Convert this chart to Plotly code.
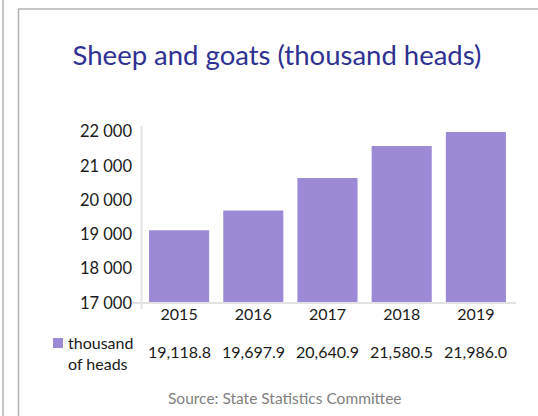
import plotly.graph_objects as go

# Flock size by year
years = ["2015", "2016", "2017", "2018", "2019"]
heads = [19118.8, 19697.9, 20640.9, 21580.5, 21986.0]
series_name = "thousand<br>of heads"
y_ticks = [17000, 18000, 19000, 20000, 21000, 22000]

W, H = 538, 416
L, R, T, B = 142, 25, 126, 113
PW, PH = W - L - R, H - T - B


def px_x(x):
    return (x - L) / PW


def px_y(y):
    return (H - B - y) / PH


FONT = "Lato"
TEXT = "#1a1a1a"
BAR = "#9c8ad6"
AXIS = "#e2e2e2"

fig = go.Figure(
    go.Bar(
        x=years,
        y=heads,
        marker=dict(color=BAR, line=dict(width=0)),
        showlegend=False,
        hoverinfo="x+y",
    )
)

fig.update_layout(
    width=W,
    height=H,
    margin=dict(l=L, r=R, t=T, b=B),
    paper_bgcolor="white",
    plot_bgcolor="white",
    bargap=0.19,
    separators=". ",
    font=dict(family=FONT, color=TEXT, size=16),
    title=dict(
        text="Sheep and goats (thousand heads)",
        x=px_x(277),
        xref="paper",
        xanchor="center",
        y=1 - 55 / H,
        yanchor="middle",
        font=dict(family=FONT, size=27.5, color="#2e3192"),
    ),
)

fig.update_xaxes(
    type="category",
    range=[-0.5, len(years) - 0.5],
    showgrid=False,
    showline=False,
    zeroline=False,
    ticks="",
    tickfont=dict(size=16, color=TEXT),
)
fig.update_yaxes(
    range=[17000, 22160],
    tickvals=y_ticks,
    tickformat=",d",
    showgrid=False,
    showline=False,
    zeroline=False,
    ticks="",
    ticklabelstandoff=9,
    tickfont=dict(size=16.5, color=TEXT),
)

shapes = []
# axis lines, with the short stubs past the crossing point
shapes.append(dict(type="line", xref="paper", yref="paper",
                   x0=px_x(141.5), x1=px_x(141.5), y0=px_y(126), y1=px_y(309),
                   line=dict(color=AXIS, width=2)))
shapes.append(dict(type="line", xref="paper", yref="paper",
                   x0=px_x(132), x1=px_x(516), y0=px_y(303), y1=px_y(303),
                   line=dict(color=AXIS, width=2)))
# page frame
shapes.append(dict(type="line", xref="paper", yref="paper",
                   x0=px_x(3), x1=px_x(3), y0=px_y(0), y1=px_y(H),
                   line=dict(color="#b4b4b4", width=1.5)))
shapes.append(dict(type="line", xref="paper", yref="paper",
                   x0=px_x(18.5), x1=px_x(18.5), y0=px_y(9), y1=px_y(H),
                   line=dict(color="#b4b4b4", width=1.5)))
shapes.append(dict(type="line", xref="paper", yref="paper",
                   x0=px_x(18), x1=px_x(W), y0=px_y(9), y1=px_y(9),
                   line=dict(color="#b4b4b4", width=1.5)))
# legend key
shapes.append(dict(type="rect", xref="paper", yref="paper",
                   x0=px_x(53), x1=px_x(63), y0=px_y(348), y1=px_y(338),
                   fillcolor=BAR, line=dict(width=0)))
fig.update_layout(shapes=shapes)

annotations = []
# data table row, placed by category index
for i, v in enumerate(heads):
    annotations.append(dict(
        x=i, xref="x", y=px_y(351), yref="paper",
        text=f"{v:,.1f}", showarrow=False,
        xanchor="center", yanchor="middle",
        font=dict(size=16, color=TEXT),
    ))
annotations.append(dict(
    x=px_x(66), xref="paper", y=px_y(352.5), yref="paper",
    text=series_name, showarrow=False, align="left",
    xanchor="left", yanchor="middle",
    font=dict(size=16, color=TEXT),
))
annotations.append(dict(
    x=px_x(285), xref="paper", y=px_y(398), yref="paper",
    text="Source: State Statistics Committee", showarrow=False,
    xanchor="center", yanchor="middle",
    font=dict(size=15.5, color="#808080"),
))
fig.update_layout(annotations=annotations)

fig.write_html("out.html")
